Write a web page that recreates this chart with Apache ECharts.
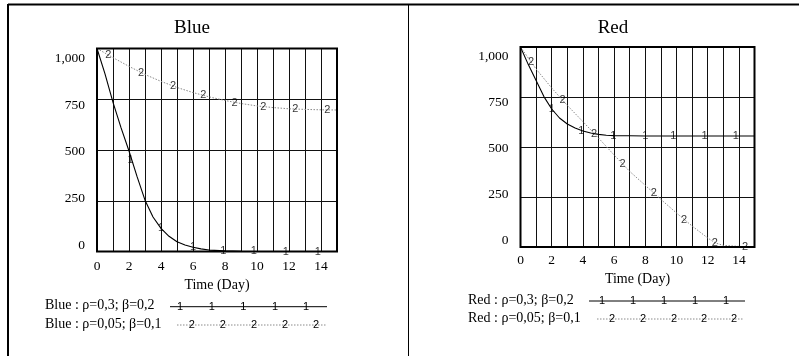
<!DOCTYPE html>
<html>
<head>
<meta charset="utf-8">
<script src="https://cdn.jsdelivr.net/npm/echarts@6/dist/echarts.min.js"></script>
<style>
html,body{margin:0;padding:0;background:#fff;}
#chart{width:799px;height:356px;}
</style>
</head>
<body>
<div id="chart"></div>
<script>
// ---- data ----
const yTicks = [0, 250, 500, 750, 1000];

const timeBlue1 = [0,0.5,1,1.5,2,2.5,3,3.5,4,4.5,5,5.5,6,6.5,7,8,9,10,11,12,13,14,15];
const blue1     = [1000,875,735,610,495,370,253,170,114,75,48,32,21,13,7,3,1,0,0,0,0,0,0];
const timeBlue2 = [0,1,2,3,4,5,6,7,8,9,10,11,12,13,14,15];
const blue2     = [1000,955,912,872,838,808,783,762,744,729,717,709,703,700,698,697];

const timeRed1 = [0,0.5,1,1.5,2,2.5,3,3.5,4,4.5,5,5.5,6,7,8,9,10,11,12,13,14,15];
const red1     = [1000,912,832,752,690,645,615,595,580,570,563,559,557,556,555,555,555,555,555,555,555,555];
const timeRed2 = [0,1,2,3,4,5,6,7,8,9,10,11,12,12.5,13,14,15];
const red2     = [1000,890,795,708,627,545,460,378,308,238,170,105,45,20,8,3,0];

// series number markers (Vensim style)
const blueMark1T = [2.1, 4, 6, 7.9, 9.8, 11.8, 13.8];
const blueMark1V = [451, 114, 21, 3, 1, 0, 0];
const blueMark2T = [0.7, 2.75, 4.75, 6.64, 8.6, 10.4, 12.4, 14.4];
const blueMark2V = [966, 880, 815, 771, 734, 713, 701, 698];
const redMark1T = [2.0, 3.9, 5.95, 8.0, 9.8, 11.8, 13.8];
const redMark1V = [690, 581, 557, 555, 555, 555, 555];
const redMark2T = [0.67, 2.7, 4.72, 6.55, 8.55, 10.48, 12.46, 14.4];
const redMark2V = [925, 733, 567, 415, 270, 137, 20, 0];

const legendBlue = ['Blue : ρ=0,3; β=0,2', 'Blue : ρ=0,05; β=0,1'];
const legendRed  = ['Red : ρ=0,3; β=0,2', 'Red : ρ=0,05; β=0,1'];
const titles = ['Blue', 'Red'];
const xName = 'Time (Day)';

// ---- build ----
const SERIF = '"Liberation Serif","Times New Roman",serif';
const SANS = '"Liberation Sans",Arial,sans-serif';
const pairs = (t, v) => t.map((x, i) => [x, v[i]]);
const fmtNum = v => String(v).replace(/\B(?=(\d{3})+(?!\d))/g, ',');

const grids = [
  {left: 97, top: 48.5, width: 240, height: 203},
  {left: 520.5, top: 47, width: 234, height: 200}
];

function xAxis(gi, margin, gap) {
  return {
    type: 'value', gridIndex: gi, min: 0, max: 15, interval: 1,
    name: xName, nameLocation: 'middle', nameGap: gap,
    nameTextStyle: {fontFamily: SERIF, fontSize: 14, color: '#000'},
    axisLine: {show: false}, axisTick: {show: false},
    axisLabel: {margin: margin, fontFamily: SERIF, fontSize: 13.5, color: '#000',
      formatter: v => (v % 2 === 0 ? String(v) : '')},
    splitLine: {show: true, lineStyle: {color: '#111', width: 1}}
  };
}
function yMain(gi) {
  return {
    type: 'value', gridIndex: gi, min: 0, max: 1000, interval: 250,
    axisLine: {show: false}, axisTick: {show: false}, axisLabel: {show: false},
    splitLine: {show: true, lineStyle: {color: '#111', width: 1}}
  };
}
function yLabels(gi, mn, mx) {
  return {
    type: 'value', gridIndex: gi, min: mn, max: mx, position: 'left',
    axisLine: {show: false}, axisTick: {show: false}, splitLine: {show: false},
    axisLabel: {customValues: yTicks, margin: 12, fontFamily: SERIF, fontSize: 13.5,
      color: '#000', formatter: v => fmtNum(Math.round(v))}
  };
}
function lineSeries(xi, yi, data, dotted) {
  return {
    type: 'line', xAxisIndex: xi, yAxisIndex: yi, data: data,
    showSymbol: false, symbol: 'none', silent: true, z: 3,
    lineStyle: dotted ? {color: '#8a8a8a', width: 1, type: [1.5, 1.5]} : {color: '#000', width: 1.1}
  };
}
function markSeries(xi, yi, data, txt) {
  return {
    type: 'scatter', xAxisIndex: xi, yAxisIndex: yi, data: data,
    symbolSize: 1, itemStyle: {color: 'rgba(0,0,0,0)'}, silent: true, z: 5,
    label: {show: true, position: 'inside', formatter: txt,
      fontFamily: SANS, fontSize: 11, color: '#000'}
  };
}

// legend graphics
function legendRows(texts, textX, lineX0, lineX1, y0, y1, m1, m2) {
  const g = [];
  g.push({type: 'text', left: textX, top: y0 - 8, style: {text: texts[0], font: '14px ' + SERIF, fill: '#000'}});
  g.push({type: 'text', left: textX, top: y1 - 8, style: {text: texts[1], font: '14px ' + SERIF, fill: '#000'}});
  g.push({type: 'line', shape: {x1: lineX0[0], y1: y0, x2: lineX1[0], y2: y0}, style: {stroke: '#000', lineWidth: 1}});
  g.push({type: 'line', shape: {x1: lineX0[1], y1: y1, x2: lineX1[1], y2: y1}, style: {stroke: '#8a8a8a', lineWidth: 1, lineDash: [1.5, 1.5]}});
  m1.forEach(x => g.push({type: 'text', x: x, y: y0, style: {text: '1', font: '11px ' + SANS, fill: '#000', textAlign: 'center', textVerticalAlign: 'middle'}}));
  m2.forEach(x => g.push({type: 'text', x: x, y: y1, style: {text: '2', font: '11px ' + SANS, fill: '#000', textAlign: 'center', textVerticalAlign: 'middle'}}));
  return g;
}

const graphics = [
  {type: 'line', shape: {x1: 8, y1: 4.5, x2: 799, y2: 4.5}, style: {stroke: '#000', lineWidth: 2}},
  {type: 'line', shape: {x1: 8, y1: 4, x2: 8, y2: 356}, style: {stroke: '#000', lineWidth: 2}},
  {type: 'line', shape: {x1: 408.5, y1: 4, x2: 408.5, y2: 356}, style: {stroke: '#000', lineWidth: 1}},
  {type: 'text', x: 192, y: 28.5, style: {text: titles[0], font: '19px ' + SERIF, fill: '#000', textAlign: 'center', textVerticalAlign: 'middle'}},
  {type: 'text', x: 613, y: 28.5, style: {text: titles[1], font: '19px ' + SERIF, fill: '#000', textAlign: 'center', textVerticalAlign: 'middle'}}
].concat(
  legendRows(legendBlue, 45, [170, 177], [327, 326], 306.7, 325,
    [180, 211.7, 243.3, 275, 306], [191.7, 222.7, 254, 285, 316]),
  legendRows(legendRed, 468, [589, 597], [745, 743], 301, 319,
    [602, 633, 664, 695, 726], [612, 643, 674, 704, 734])
);

const option = {
  animation: false,
  backgroundColor: '#fff',
  grid: grids.map(g => Object.assign({show: true, borderColor: '#000', borderWidth: 2, backgroundColor: 'transparent', z: 4}, g)),
  xAxis: [xAxis(0, 8, 26.5), xAxis(1, 6, 24.5)],
  yAxis: [yMain(0), yLabels(0, -34.8, 1052.5), yMain(1), yLabels(1, -38.2, 1052.9)],
  series: [
    lineSeries(0, 0, pairs(timeBlue1, blue1), false),
    lineSeries(0, 0, pairs(timeBlue2, blue2), true),
    markSeries(0, 0, pairs(blueMark1T, blueMark1V), '1'),
    markSeries(0, 0, pairs(blueMark2T, blueMark2V), '2'),
    lineSeries(1, 2, pairs(timeRed1, red1), false),
    lineSeries(1, 2, pairs(timeRed2, red2), true),
    markSeries(1, 2, pairs(redMark1T, redMark1V), '1'),
    markSeries(1, 2, pairs(redMark2T, redMark2V), '2')
  ],
  graphic: graphics
};

const chart = echarts.init(document.getElementById('chart'), null, {renderer: 'canvas'});
chart.setOption(option);
</script>
</body>
</html>
